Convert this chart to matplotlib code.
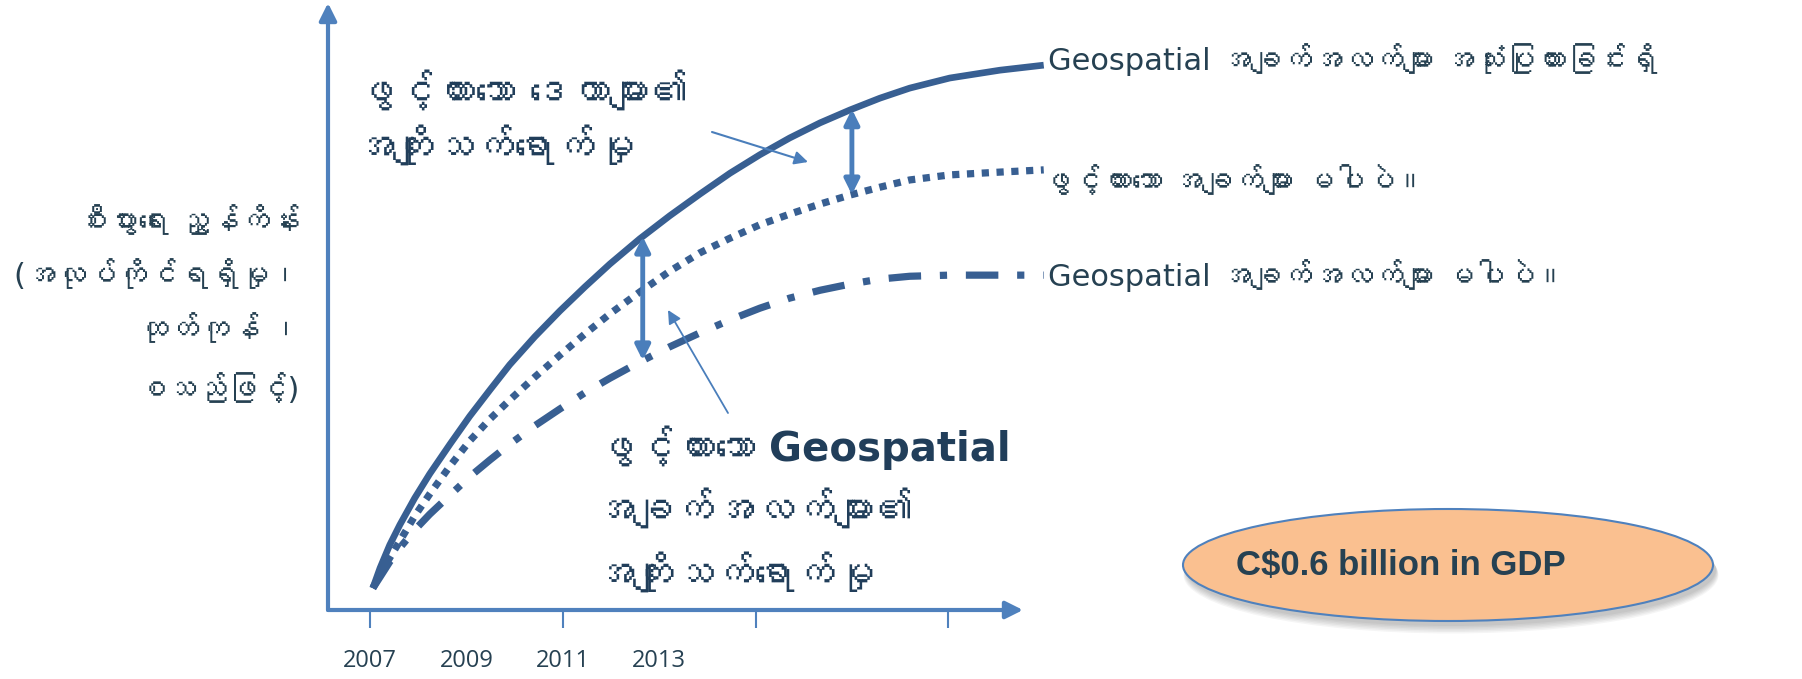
import numpy as np
import matplotlib
matplotlib.use('Agg')
import matplotlib.pyplot as plt
from matplotlib import font_manager as fm
from matplotlib.ft2font import FT2Font
from matplotlib.patches import Ellipse

# curve data (year, index value)
years = [2007.06, 2007.21, 2007.41, 2007.62, 2007.93, 2008.24, 2008.66, 2009.07,
         2009.49, 2009.90, 2010.42, 2010.94, 2011.46, 2011.98, 2012.60, 2013.22,
         2013.85, 2014.47, 2015.09, 2015.71, 2016.34, 2016.96, 2017.58, 2018.20,
         2019.03, 2020.07, 2020.98]
val_geo = [3.9, 7.5, 11.6, 15.2, 20.0, 24.3, 29.6, 34.6, 39.3, 43.8, 48.8, 53.4,
           57.7, 61.8, 66.3, 70.4, 74.3, 78.0, 81.3, 84.3, 87.0, 89.3, 91.4, 93.2,
           95.0, 96.4, 97.3]
val_open = [3.9, 6.3, 9.3, 12.3, 16.8, 20.7, 25.7, 30.2, 34.1, 37.5, 41.6, 45.5,
            49.3, 52.9, 56.8, 60.5, 63.8, 66.4, 68.8, 70.7, 72.5, 74.1, 75.5, 76.8,
            77.7, 78.2, 78.6]
val_nogeo = [3.9, 5.9, 8.6, 11.1, 14.3, 17.1, 20.5, 23.8, 26.8, 29.6, 32.9, 35.9,
             38.8, 41.4, 44.3, 47.0, 49.5, 51.8, 53.9, 55.7, 57.1, 58.2, 59.1, 59.6,
             59.8, 59.8, 59.8]

tick_marks = [2007, 2011, 2015, 2019]
tick_labels = ['2007', '2009', '2011', '2013']
tick_label_pos = [2007, 2009, 2011, 2013]

gap_years = [2017.0, 2012.66]

series_labels = ['Geospatial အချက်အလက်များ အသုံးပြုထားခြင်းရှိ',
                 'ဖွင့်ထားသော အချက်များ မပါပဲ။',
                 'Geospatial အချက်အလက်များ မပါပဲ။']
ylabel_lines = ['စီးပွားရေး ညွှန်ကိန်း', '(အလုပ်ကိုင်ရရှိမှု၊', 'ထုတ်ကုန် ၊', 'စသည်ဖြင့်)']
note_top = ['ဖွင့်ထားသော ဒေတာများ၏', 'အကျိုးသက်ရောက်မှု']
note_bottom = ['ဖွင့်ထားသော Geospatial', 'အချက်အလက်များ၏', 'အကျိုးသက်ရောက်မှု']
gdp_text = 'C$0.6 billion in GDP'


def find_font(ch):
    for f in fm.fontManager.ttflist:
        try:
            if ord(ch) in FT2Font(f.fname).get_charmap():
                return f.name
        except Exception:
            pass
    return None


mm = find_font('\u1000')
fams = ['DejaVu Sans'] + ([mm] if mm else [])
plt.rcParams['font.family'] = fams

line_c = '#385F92'
axis_c = '#4F81BD'
text_c = '#264152'
bold_c = '#213E5A'

W, H = 1802, 679
fig = plt.figure(figsize=(W / 100, H / 100), dpi=100)

# main axes: pixel box x 328..1023, y 3..610
ax = fig.add_axes([328 / W, (H - 610) / H, (1023 - 328) / W, (610 - 3) / H])
ax.set_xlim(2006.13, 2020.55)
ax.set_ylim(0, 108.4)
for s in ax.spines.values():
    s.set_visible(False)
ax.set_yticks([])
ax.xaxis.remove_overlapping_locs = False
ax.set_xticks(tick_label_pos)
ax.set_xticklabels(tick_labels, fontsize=17, color=text_c, family='Open Sans')
ax.tick_params(axis='x', which='major', length=0, pad=28)
ax.set_xticks(tick_marks, minor=True)
ax.tick_params(axis='x', which='minor', length=13, width=1.5, color=axis_c,
               direction='out', pad=2)

ax.annotate('', xy=(1, 0), xytext=(0, 0), xycoords='axes fraction',
            arrowprops=dict(arrowstyle='-|>', lw=3, color=axis_c,
                            mutation_scale=26, shrinkA=0, shrinkB=0))
ax.annotate('', xy=(0, 1), xytext=(0, 0), xycoords='axes fraction',
            arrowprops=dict(arrowstyle='-|>', lw=3, color=axis_c,
                            mutation_scale=26, shrinkA=0, shrinkB=0))

ax.plot(years, val_geo, color=line_c, lw=4.8, clip_on=False,
        solid_capstyle='butt', solid_joinstyle='round')
ax.plot(years, val_open, color=line_c, lw=5.2, clip_on=False,
        linestyle=(0, (1, 1.05)))
ax.plot(years, val_nogeo, color=line_c, lw=5.2, clip_on=False,
        linestyle=(0, (4.5, 2.6, 1, 2.6)))

# gap arrows between curves
g_top = np.interp(gap_years[0], years, val_geo)
g_bot = np.interp(gap_years[0], years, val_open)
ax.annotate('', xy=(gap_years[0], g_top), xytext=(gap_years[0], g_bot),
            arrowprops=dict(arrowstyle='<|-|>', lw=3.5, color='#4A7EBB',
                            mutation_scale=22, shrinkA=0, shrinkB=0))
g_top = np.interp(gap_years[1], years, val_geo)
g_bot = np.interp(gap_years[1], years, val_nogeo)
ax.annotate('', xy=(gap_years[1], g_top), xytext=(gap_years[1], g_bot),
            arrowprops=dict(arrowstyle='<|-|>', lw=3.5, color='#4A7EBB',
                            mutation_scale=22, shrinkA=0, shrinkB=0))

# overlay in pixel coordinates for labels
ov = fig.add_axes([0, 0, 1, 1])
ov.set_xlim(0, W)
ov.set_ylim(H, 0)
ov.axis('off')

for lab, x, y in zip(series_labels, [1048, 1040, 1048], [60, 182, 276]):
    ov.text(x, y, lab, fontsize=22, color=text_c, va='center', ha='left')

for lab, y in zip(ylabel_lines, [222, 276, 330, 390]):
    ov.text(300, y, lab, fontsize=22, color=text_c, va='center', ha='right')

for lab, y in zip(note_top, [93, 148]):
    ov.text(354, y, lab, fontsize=29, color=bold_c, va='center', ha='left',
            fontweight='bold')

for lab, y in zip(note_bottom, [448, 511, 575]):
    ov.text(594, y, lab, fontsize=29, color=bold_c, va='center', ha='left',
            fontweight='bold')

ov.annotate('', xy=(808, 162), xytext=(712, 132),
            arrowprops=dict(arrowstyle='-|>', lw=1.5, color='#4A7EBB',
                            mutation_scale=20, shrinkA=0, shrinkB=0))
ov.annotate('', xy=(668, 310), xytext=(728, 413),
            arrowprops=dict(arrowstyle='-|>', lw=1.3, color='#4A7EBB',
                            mutation_scale=20, shrinkA=0, shrinkB=0))

# GDP bubble with soft shadow
for k in range(6):
    ov.add_patch(Ellipse((1451, 570 + k), 530 + k, 112 + k, fc='#000000',
                         ec='none', alpha=0.04))
ov.add_patch(Ellipse((1448, 565), 530, 112, fc='#FAC090', ec=axis_c, lw=1.5))
ov.text(1401, 566, gdp_text, fontsize=25, fontweight='bold', color=text_c,
        ha='center', va='center', family='Liberation Sans')

fig.savefig('out.png', dpi=100)
